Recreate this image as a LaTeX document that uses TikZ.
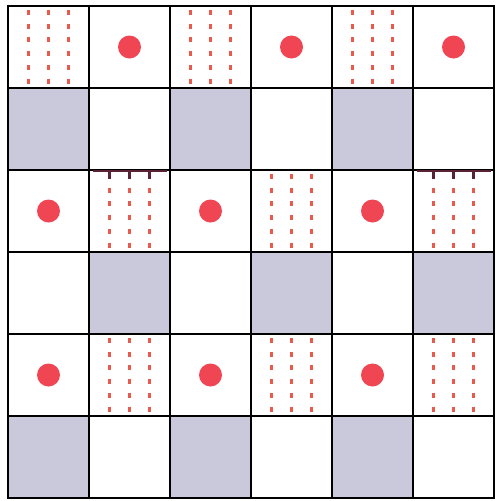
\documentclass[tikz,border=0pt]{standalone}
\definecolor{cellgray}{HTML}{C9C9DB}
\definecolor{dotred}{HTML}{F04654}
\definecolor{dashred}{HTML}{E85A4C}
\definecolor{tickbar}{HTML}{5A2234}
\usepackage{tikz}

\begin{document}
\begin{tikzpicture}[
            x=1pt, y=-1pt,
            shaded/.style={fill=cellgray},
            spot/.style={fill=dotred},
            stripe/.style={draw=dashred, line width=2.4pt,
                           dash pattern=on 5pt off 8.7pt, dash phase=-2pt},
            gridline/.style={draw=black, line width=2.2pt, line cap=rect},
            bar/.style={draw=tickbar, line width=2.2pt}
          ]
          \useasboundingbox[fill=white] (0,0) rectangle (496,501);
          % gray cells
          \foreach \c/\r in {0/1,2/1,4/1,1/3,3/3,5/3,0/5,2/5,4/5}
            \fill[shaded] ({8+81*\c},{6+82*\r}) rectangle +(81,82);
          % striped cells
          \foreach \c/\r in {0/0,2/0,4/0,1/2,3/2,5/2,1/4,3/4,5/4}
            \foreach \dx in {20.5,40.5,60.5}
              \draw[stripe] ({8+81*\c+\dx},{6+82*\r+2}) -- +(0,80);
          % dotted cells
          \foreach \c/\r in {1/0,3/0,5/0,0/2,2/2,4/2,0/4,2/4,4/4}
            \fill[spot] ({48.5+81*\c},{47+82*\r}) circle (11.5pt);
          % grid
          \foreach \i in {0,...,6} {
            \draw[gridline] ({8+81*\i},6) -- ({8+81*\i},498);
            \draw[gridline] (8,{6+82*\i}) -- (494,{6+82*\i});
          }
          % bars with ticks
          \foreach \c in {1,5} {
            \draw[bar] ({8+81*\c+4},171) -- ({8+81*\c+78},171);
            \foreach \dx in {20.5,40.5,60.5}
              \draw[bar] ({8+81*\c+\dx},171) -- +(0,8);
          }
        \end{tikzpicture}
\end{document}
